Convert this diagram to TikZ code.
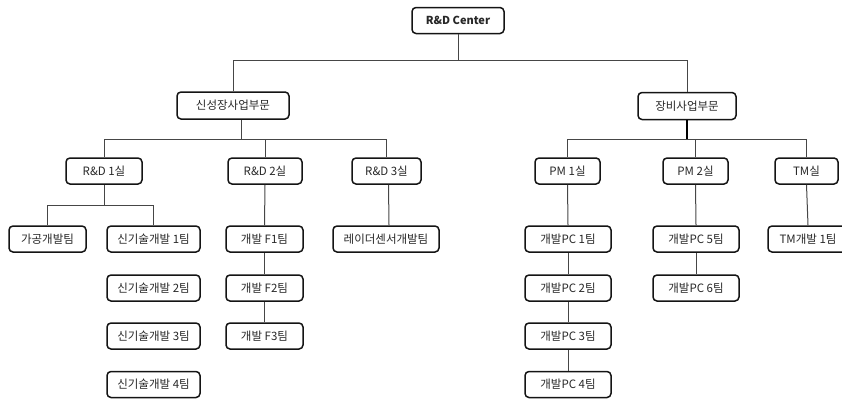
\documentclass[tikz,border=0pt]{standalone}
\usepackage{fontspec}
\usepackage{xcolor}
\usepackage{tikz}
\usetikzlibrary{positioning}
\newfontfamily\krfont{Noto Sans CJK KR}

\definecolor{boxline}{RGB}{20,20,20}
\definecolor{wireline}{RGB}{70,70,70}
\definecolor{labeltext}{RGB}{40,40,40}

\tikzset{
  unit/.style={draw=boxline, line width=1.5pt, rounded corners=4pt, fill=white,
    minimum height=26, inner sep=0pt, text=labeltext, font=\krfont\fontsize{11.5}{13}\selectfont},
  wire/.style={draw=wireline, line width=1pt},
}

\begin{document}
\begin{tikzpicture}[x=1pt,y=1pt,yscale=-1,xscale=1]
		\useasboundingbox (0,0) rectangle (842,399);
		
		%Top: center
		\node [unit, minimum width=92, font=\krfont\bfseries\fontsize{11}{13}\selectfont] (ctr) at (458,20.5) {R\&D Center};
		
		%Divisions
		\node [unit, minimum width=112, minimum height=27] (newbiz) at (233,105.5) {신성장사업부문};
		\node [unit, minimum width=98, minimum height=27] (equip) at (687,106) {장비사업부문};
		
		%Rooms under 신성장사업부문
		\node [unit, minimum width=76] (rd1) at (104,171) {R\&D 1실};
		\node [unit, minimum width=74] (rd2) at (265,171) {R\&D 2실};
		\node [unit, minimum width=69] (rd3) at (386.5,171) {R\&D 3실};
		
		%Rooms under 장비사업부문
		\node [unit, minimum width=65] (pm1) at (567.5,171) {PM 1실};
		\node [unit, minimum width=65] (pm2) at (695.5,171) {PM 2실};
		\node [unit, minimum width=63] (tm) at (806.5,171) {TM실};
		
		%Teams, R&D 1실
		\node [unit, minimum width=77] (proc) at (47.5,239) {가공개발팀};
		\node [unit, minimum width=93] (nt1) at (153.5,239) {신기술개발 1팀};
		\node [unit, minimum width=93] (nt2) at (153.5,288) {신기술개발 2팀};
		\node [unit, minimum width=93] (nt3) at (153.5,336) {신기술개발 3팀};
		\node [unit, minimum width=93] (nt4) at (153.5,384.5) {신기술개발 4팀};
		
		%Teams, R&D 2실 / 3실
		\node [unit, minimum width=77] (f1) at (264.5,239) {개발 F1팀};
		\node [unit, minimum width=77] (f2) at (264.5,288) {개발 F2팀};
		\node [unit, minimum width=77] (f3) at (264.5,336) {개발 F3팀};
		\node [unit, minimum width=106] (radar) at (386,239) {레이더센서개발팀};
		
		%Teams, PM 1실 / PM 2실 / TM실
		\node [unit, minimum width=86] (pc1) at (568,239) {개발PC 1팀};
		\node [unit, minimum width=86] (pc2) at (568,288) {개발PC 2팀};
		\node [unit, minimum width=86] (pc3) at (568,336) {개발PC 3팀};
		\node [unit, minimum width=86] (pc4) at (568,384.5) {개발PC 4팀};
		\node [unit, minimum width=86] (pc5) at (696,239) {개발PC 5팀};
		\node [unit, minimum width=86] (pc6) at (696,288) {개발PC 6팀};
		\node [unit, minimum width=80] (tmd1) at (808,239) {TM개발 1팀};
		
		%Bus levels
		\coordinate (topbus) at (458,60);
		\coordinate (leftbus) at (241,139);
		\coordinate (rightbus) at (688,139);
		\coordinate (rd1bus) at (104,205);
		
		%Connectors: center to divisions
		\draw [wire] (ctr.south) -- (topbus) -| (newbiz.north);
		\draw [wire] (topbus) -| (equip.north);
		
		%Connectors: 신성장사업부문 to rooms
		\draw [wire] ([xshift=8]newbiz.south) -- (leftbus) -| (rd1.north);
		\draw [wire] (leftbus) -| (rd2.north);
		\draw [wire] (leftbus) -| (rd3.north);
		
		%Connectors: 장비사업부문 to rooms
		\draw [wire, draw=black, line width=2pt] (equip.south) -- (equip.south |- rightbus);
		\draw [wire] (rightbus) -| (pm1.north);
		\draw [wire] (rightbus) -| (pm2.north);
		\draw [wire] (rightbus) -| (tm.north);
		
		%Connectors: rooms to teams
		\draw [wire] (rd1.south) -- (rd1bus) -| (proc.north);
		\draw [wire] (rd1bus) -| (nt1.north);
		\draw [wire] (rd2.south) -- (f1.north);
		\draw [wire] (f1.south) -- (f2.north);
		\draw [wire] (f2.south) -- (f3.north);
		\draw [wire] ([xshift=2]rd3.south) -- ([xshift=3]radar.north);
		\draw [wire] (pm1.south) -- (pc1.north);
		\draw [wire] (pc1.south) -- (pc2.north);
		\draw [wire] (pc2.south) -- (pc3.north);
		\draw [wire] (pc3.south) -- (pc4.north);
		\draw [wire] (pm2.south) -- (pc5.north);
		\draw [wire] (pc5.south) -- (pc6.north);
		\draw [wire] (tm.south) -- (tmd1.north);
		
\end{tikzpicture}
\end{document}
